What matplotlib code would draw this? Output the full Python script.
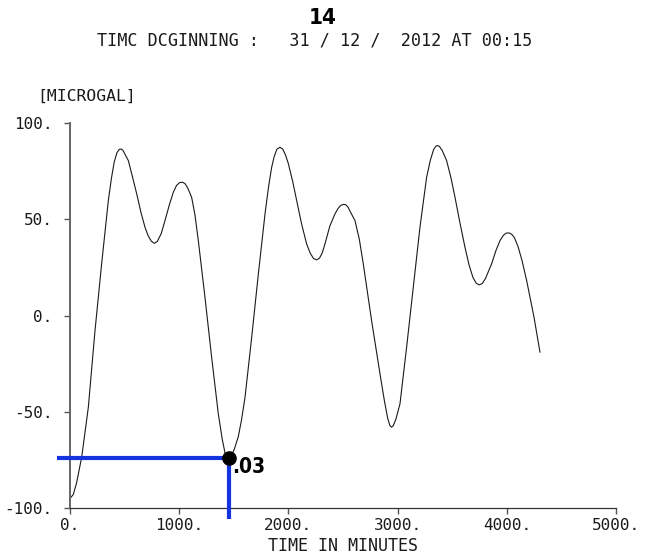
import matplotlib
matplotlib.use("Agg")
import matplotlib.pyplot as plt

# data (minutes, microgal)
time_min = [0, 30, 60, 107, 168, 229, 290, 351, 380, 405, 430, 450, 467, 485, 505, 534,
            570, 611, 650, 687, 715, 745, 772, 800, 835, 870, 910, 946, 975, 1005, 1032,
            1055, 1080, 1114, 1145, 1175, 1236, 1297, 1358, 1395, 1420, 1441, 1460, 1480,
            1505, 1541, 1570, 1603, 1664, 1725, 1786, 1820, 1847, 1870, 1895, 1923, 1950,
            1975, 2000, 2040, 2076, 2120, 2167, 2200, 2230, 2259, 2285, 2310, 2335, 2380,
            2427, 2455, 2480, 2505, 2524, 2545, 2570, 2610, 2650, 2686, 2762, 2839, 2880,
            2910, 2930, 2945, 2960, 2985, 3022, 3083, 3144, 3205, 3266, 3300, 3330, 3350,
            3367, 3385, 3410, 3449, 3490, 3526, 3570, 3617, 3655, 3690, 3720, 3748, 3775,
            3805, 3861, 3900, 3938, 3970, 3995, 4020, 4045, 4070, 4105, 4140, 4182, 4250,
            4304]
gravity = [-95, -93, -87, -73.6, -47.6, -7.8, 27, 59.7, 71.5, 79.8, 84.6, 86.2, 86.5, 85.8, 83.6, 80.5,
           72.5, 63.2, 53.5, 45.8, 41.5, 38.6, 37.5, 38.5, 42.5, 49.3, 57.5, 64, 67.5, 69.1, 69.2,
           68.4, 66, 61.4, 52, 39, 9.5, -21.6, -51, -64.5, -71.5, -74.4, -74.3, -72.6,
           -69.4, -63, -54.5, -42.4, -11.3, 21.6, 52.8, 67.5, 77, 82.6, 86.4, 87.4, 86.3,
           83.2, 78.8, 69.5, 59.7, 47.8, 37.2, 32.4, 29.6, 28.9, 29.8, 32.5, 37.2, 46.5,
           52.8, 55.6, 57.2, 57.7, 57.6, 56.4, 53.6, 49.3, 39.5, 26.8, -2.6, -30.3, -44.5,
           -53.5, -57.2, -58, -57.3, -53.8, -45.9, -16.4, 14.7, 45.8, 71.8, 80.6, 86.2, 87.9,
           88.3, 87.7, 85.6, 80.5, 71.3, 61.4, 48.5, 35.5, 26.2, 19.8, 16.8, 15.9, 16.6,
           19.2, 26.8, 33.6, 38.9, 41.7, 42.8, 42.9, 42.2, 40.5, 35.5, 28.5, 18.2, -1,
           -19]

# hand-drawn marker
mark_t = 1456
mark_v = -74.2
mark_label = ".03"

x_ticks = [0, 1000, 2000, 3000, 4000, 5000]
y_ticks = [-100, -50, 0, 50, 100]

page_no = "14"
title = "TIMC DCGINNING :   31 / 12 /  2012 AT 00:15"
y_unit = "[MICROGAL]"
x_label = "TIME IN MINUTES"

# Colors
ink = '#1a1a1a'
axis_color = '#555555'
pen_blue = '#1434e0'

mono = ['DejaVu Sans Mono']
bold_font = ['DejaVu Sans']

fig = plt.figure(figsize=(6.47, 5.56), dpi=100)
fig.set_facecolor('white')
ax = fig.add_axes([0.1082, 0.0863, 0.8438, 0.6925])

ax.plot(time_min, gravity, color=ink, lw=0.8)

ax.set_xlim(0, 5000)
ax.set_ylim(-100, 100)
ax.set_xticks(x_ticks)
ax.set_yticks(y_ticks)
ax.set_xticklabels([f"{t}." for t in x_ticks], family=mono, fontsize=11.5, color=ink)
ax.set_yticklabels([f"{v}." for v in y_ticks], family=mono, fontsize=11.5, color=ink)
ax.tick_params(axis='y', length=4.5, width=1, color=axis_color, pad=8)
ax.tick_params(axis='x', length=4.5, width=1, color=axis_color, pad=3)

for side in ['top', 'right']:
    ax.spines[side].set_visible(False)
ax.spines['left'].set_color('#666666')
ax.spines['left'].set_linewidth(1.4)
ax.spines['bottom'].set_color('#333333')
ax.spines['bottom'].set_linewidth(0.9)

# blue pen marks over the plot
ax.plot([-120, mark_t], [mark_v, mark_v], color=pen_blue, lw=3, clip_on=False,
        solid_capstyle='butt', zorder=4)
ax.plot([mark_t, mark_t], [mark_v, -105.5], color=pen_blue, lw=3, clip_on=False,
        solid_capstyle='butt', zorder=4)
ax.plot([mark_t], [mark_v], 'o', color='black', markersize=9.5, clip_on=False, zorder=5)
ax.annotate(mark_label, (mark_t, mark_v), xytext=(2, -6.5), textcoords='offset points',
            ha='left', va='center', fontsize=15, fontweight='bold', family=bold_font,
            fontstretch='condensed', color='black')

# texts around the plot
fig.text(0.498, 0.967, page_no, ha='center', va='center', fontsize=16,
         fontweight='bold', family=bold_font, fontstretch='condensed', color='black')
fig.text(0.487, 0.928, title, ha='center', va='center', fontsize=12.1,
         family=mono, color=ink)
fig.text(0.057, 0.827, y_unit, ha='left', va='center', fontsize=11.8,
         family=mono, color=ink)
fig.text(0.53, 0.018, x_label, ha='center', va='center', fontsize=12,
         family=mono, color=ink)

fig.savefig('out.png', dpi=100)
